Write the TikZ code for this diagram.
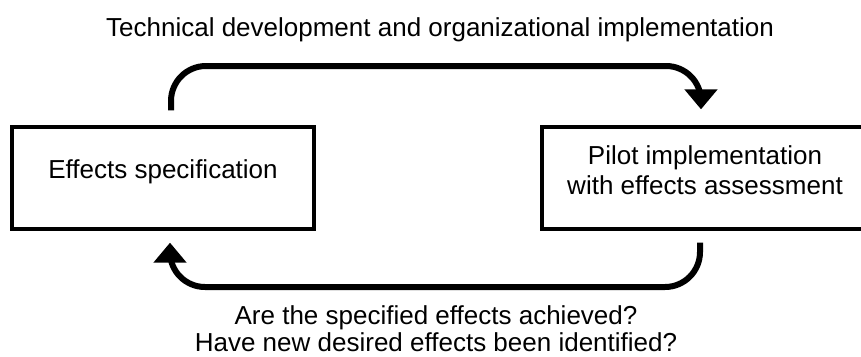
\documentclass[tikz,border=0pt]{standalone}
\usepackage{fontspec}
\setmainfont{Liberation Sans}
\usetikzlibrary{arrows.meta,positioning,calc}

\begin{document}
\begin{tikzpicture}[x=1pt, y=-1pt,
    every node/.style={font=\fontsize{26}{30}\selectfont},
    box/.style={draw, line width=3.3pt, minimum height=102pt, align=center},
    cycle arrow/.style={-{Triangle[length=20pt,width=32pt]}, line width=6pt, rounded corners=35pt}]
    \useasboundingbox (0,0) rectangle (861,356);

    % Boxes
    \node[box, minimum width=302pt, text height=6pt, text depth=6pt] (spec) at (163,178) {Effects specification};
    \node[box, minimum width=326pt, text depth=15pt] (pilot) at (705,178) {Pilot implementation\\with effects assessment};

    % Labels
    \node[anchor=base west, inner sep=0pt] (dev) at (106,36.7) {Technical development and organizational implementation};
    \node[anchor=north, align=center, inner sep=0pt, font=\fontsize{26}{27}\selectfont] (check) at (436,305) {Are the specified effects achieved?\\Have new desired effects been identified?};

    % Arrows between the boxes
    \draw[cycle arrow] ([xshift=8pt,yshift=15pt]spec.north) |- (436,66) -| ([xshift=-4pt,yshift=16pt]pilot.north);
    \draw[cycle arrow] ([xshift=-5pt,yshift=-12pt]pilot.south) |- (436,287) -| ([xshift=7pt,yshift=-12pt]spec.south);

\end{tikzpicture}
\end{document}
